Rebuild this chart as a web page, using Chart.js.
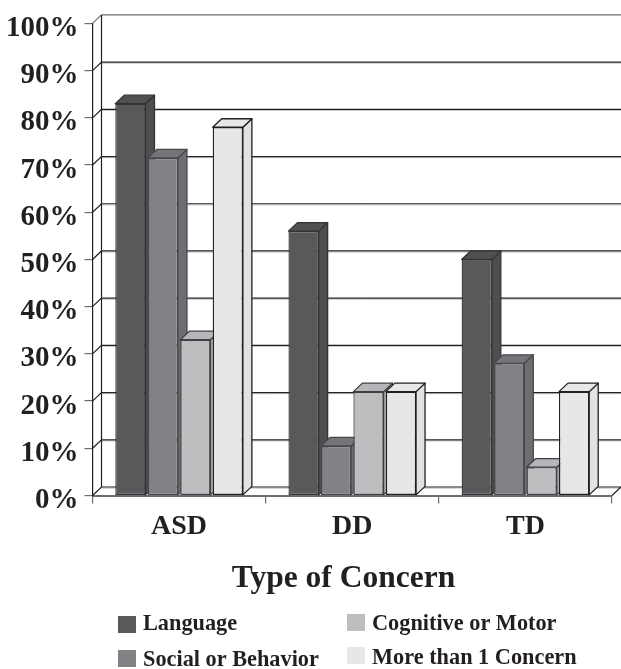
<!DOCTYPE html>
<html>
<head>
<meta charset="utf-8">
<title>Type of Concern</title>
<script src="https://cdn.jsdelivr.net/npm/chart.js@4"></script>
<style>
  html, body { margin: 0; padding: 0; background: #fff; }
  canvas { display: block; }
</style>
</head>
<body>
<canvas id="concern-chart" width="621" height="669"></canvas>
<script>
// Data, percent of children per group
const categories = ["ASD", "DD", "TD"];
const language = [83, 56, 50];
const socialBehavior = [71.5, 10.5, 28];
const cognitiveMotor = [33, 22, 6];
const moreThanOne = [78, 22, 22];
const yTicks = [0, 10, 20, 30, 40, 50, 60, 70, 80, 90, 100];

const SERIF = '"Liberation Serif", "Times New Roman", serif';
const DARK = "#231f20";
const DEPTH_X = 9; // fake 3D offset
const DEPTH_Y = 8.5;

// side colours go with the front colours, same order as the datasets
const sideColors = ["#4d4e50", "#6d6e71", "#a7a9ac", "#e1e2e4"];
const topColors = ["#4f5052", "#747578", "#b4b6b9", "#e6e7e8"];

// back wall and grid, then the top and side of each bar under the fronts
const depthPlugin = {
  id: "depth",
  beforeDatasetsDraw(chart) {
    const ctx = chart.ctx;
    const { left, right } = chart.chartArea;
    const y = chart.scales.y;
    ctx.save();

    yTicks.forEach((t) => {
      const py = y.getPixelForValue(t);
      // soft grey edge under each grid line
      if (t !== 100) {
        ctx.beginPath();
        ctx.moveTo(left + DEPTH_X, py - DEPTH_Y + 1.2);
        ctx.lineTo(right + DEPTH_X, py - DEPTH_Y + 1.2);
        ctx.strokeStyle = "#c8c9cb";
        ctx.lineWidth = 1;
        ctx.stroke();
      }
      ctx.beginPath();
      ctx.moveTo(left, py);
      ctx.lineTo(left + DEPTH_X, py - DEPTH_Y);
      ctx.lineTo(right + DEPTH_X, py - DEPTH_Y);
      if (t === 0) ctx.moveTo(right, py), ctx.lineTo(right + DEPTH_X, py - DEPTH_Y);
      ctx.strokeStyle = t === 100 ? "#6d6e71" : DARK;
      ctx.lineWidth = 1.2;
      ctx.stroke();
    });

    // left wall back edge
    ctx.beginPath();
    ctx.moveTo(left + DEPTH_X, y.getPixelForValue(100) - DEPTH_Y);
    ctx.lineTo(left + DEPTH_X, y.getPixelForValue(0) - DEPTH_Y);
    ctx.strokeStyle = DARK;
    ctx.lineWidth = 1.2;
    ctx.stroke();

    categories.forEach((c, i) => {
      chart.data.datasets.forEach((ds, d) => {
        const bar = chart.getDatasetMeta(d).data[i];
        const x0 = bar.x - bar.width / 2;
        const x1 = bar.x + bar.width / 2;
        ctx.lineWidth = 1.3;
        ctx.strokeStyle = ds.borderColor;
        ctx.lineJoin = "round";

        ctx.fillStyle = sideColors[d];
        ctx.beginPath();
        ctx.moveTo(x1, bar.y);
        ctx.lineTo(x1 + DEPTH_X, bar.y - DEPTH_Y);
        ctx.lineTo(x1 + DEPTH_X, bar.base - DEPTH_Y);
        ctx.lineTo(x1, bar.base);
        ctx.closePath();
        ctx.fill();
        ctx.stroke();

        ctx.fillStyle = topColors[d];
        ctx.beginPath();
        ctx.moveTo(x0, bar.y);
        ctx.lineTo(x0 + DEPTH_X, bar.y - DEPTH_Y);
        ctx.lineTo(x1 + DEPTH_X, bar.y - DEPTH_Y);
        ctx.lineTo(x1, bar.y);
        ctx.closePath();
        ctx.fill();
        ctx.stroke();
      });
    });
    ctx.restore();
  },
  // axis title and the two column legend, the built in ones cannot sit like this
  afterDraw(chart) {
    const ctx = chart.ctx;
    const ds = chart.data.datasets;
    ctx.save();
    ctx.fillStyle = DARK;
    ctx.textAlign = "center";
    ctx.textBaseline = "alphabetic";
    ctx.font = "bold 31.5px " + SERIF;
    ctx.fillText("Type of Concern", 343.5, 587);

    ctx.textAlign = "left";
    ctx.font = "bold 22.3px " + SERIF;
    const spots = [
      [118, 616, 143, 630],
      [118, 650, 143, 666],
      [347, 614, 372, 630],
      [347, 647, 372, 664],
    ];
    ds.forEach((d, i) => {
      const s = spots[i];
      ctx.fillStyle = d.backgroundColor;
      ctx.fillRect(s[0], s[1], 18, 17);
      ctx.fillStyle = DARK;
      ctx.fillText(d.label, s[2], s[3]);
    });
    ctx.restore();
  },
};

new Chart(document.getElementById("concern-chart"), {
  type: "bar",
  data: {
    labels: categories,
    datasets: [
      { label: "Language", data: language, backgroundColor: "#58595b", borderColor: "#333335" },
      { label: "Social or Behavior", data: socialBehavior, backgroundColor: "#808285", borderColor: "#48494b" },
      { label: "Cognitive or Motor", data: cognitiveMotor, backgroundColor: "#bcbec0", borderColor: "#404042" },
      { label: "More than 1 Concern", data: moreThanOne, backgroundColor: "#e6e7e8", borderColor: "#231f20" },
    ],
  },
  options: {
    responsive: false,
    animation: false,
    layout: { padding: { top: 22, right: 9, left: 0, bottom: 0 } },
    datasets: {
      bar: { categoryPercentage: 0.75, barPercentage: 0.93, borderWidth: 1.3, borderSkipped: false },
    },
    plugins: {
      legend: { display: false },
      title: { display: false },
      tooltip: { enabled: false },
    },
    scales: {
      x: {
        afterFit: (s) => { s.height = 173.5; },
        grid: { drawOnChartArea: false, tickLength: 8, color: "#6d6e71", lineWidth: 1.2 },
        border: { color: "#6d6e71", width: 2 },
        ticks: { color: DARK, padding: 6, maxRotation: 0, font: { family: SERIF, size: 28, weight: "bold" } },
      },
      y: {
        min: 0,
        max: 100,
        afterFit: (s) => { s.width = 92.5; },
        afterBuildTicks: (s) => { s.ticks = yTicks.map((v) => ({ value: v })); },
        grid: { drawOnChartArea: false, tickLength: 8, color: "#6d6e71", lineWidth: 1.2 },
        border: { color: DARK, width: 1.2 },
        ticks: {
          color: DARK,
          padding: 6,
          labelOffset: 5,
          callback: (v) => v + "%",
          font: { family: SERIF, size: 29, weight: "bold" },
        },
      },
    },
  },
  plugins: [depthPlugin],
});
</script>
</body>
</html>
